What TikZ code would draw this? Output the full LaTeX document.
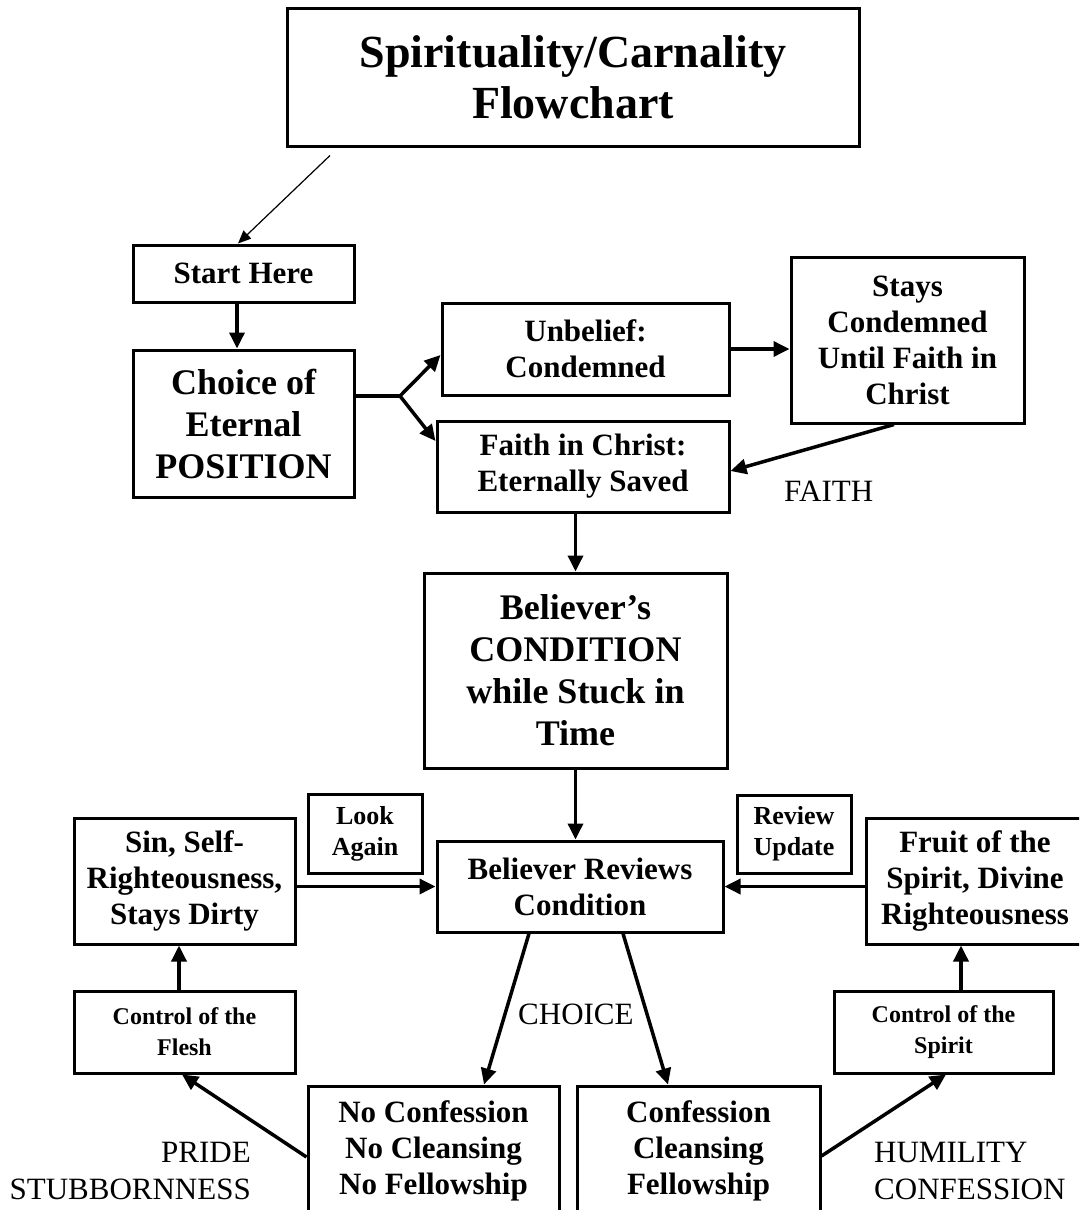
\documentclass[tikz,border=0pt]{standalone}
\usepackage{fontspec}
\setmainfont{Liberation Serif}
\usetikzlibrary{arrows.meta}
\begin{document}
\begin{tikzpicture}[x=1pt,y=-1pt,
  box/.style={draw,line width=3pt,align=center,inner sep=0pt,font=\bfseries\fontsize{31}{36}\selectfont},
  bigtext/.style={font=\bfseries\fontsize{36}{42}\selectfont},
  smalltext/.style={font=\bfseries\fontsize{26}{31}\selectfont},
  arr/.style={line width=3.5pt,-{Triangle[length=16pt,width=15pt]}},
  lbl/.style={inner sep=0pt,font=\fontsize{31}{37}\selectfont}]
\useasboundingbox (0,0) rectangle (1079,1210);
\clip (0,0) rectangle (1079,1210);
\fill[white] (0,0) rectangle (1079,1210);
% nodes
\node[box,minimum width=572pt,minimum height=138pt,font=\bfseries\fontsize{46}{51}\selectfont] (title) at (573,77) {Spirituality/Carnality\\Flowchart};
\node[box,minimum width=221pt,minimum height=57pt] (start) at (243.5,273.5) {Start Here};
\node[box,bigtext,minimum width=221pt,minimum height=147pt] (choice) at (243.5,423.5) {Choice of\\Eternal\\POSITION};
\node[box,minimum width=287pt,minimum height=92pt] (unbelief) at (585.5,349) {Unbelief:\\Condemned};
\node[box,minimum width=233pt,minimum height=166pt] (stays) at (907.5,340) {Stays\\Condemned\\Until Faith in\\Christ};
\node[box,minimum width=292pt,minimum height=91pt] (faith) at (583,466.5) {Faith in Christ:\\Eternally Saved};
\node[box,bigtext,minimum width=303pt,minimum height=195pt] (believer) at (575.5,670.5) {Believer’s\\CONDITION\\while Stuck in\\Time};
\node[box,minimum width=286pt,minimum height=91pt] (reviews) at (580,886.5) {Believer Reviews\\Condition};
\node[box,smalltext,minimum width=114pt,minimum height=79pt] (look) at (365,833.5) {Look\\Again};
\node[box,minimum width=221pt,minimum height=126pt] (sin) at (184.5,881) {Sin, Self-\\Righteousness,\\Stays Dirty};
\node[box,smalltext,minimum width=114pt,minimum height=78pt] (update) at (794,834) {Review\\Update};
\node[box,minimum width=218pt,minimum height=126pt] (fruit) at (975,881) {Fruit of the\\Spirit, Divine\\Righteousness};
\node[box,font=\bfseries\fontsize{24}{31}\selectfont,minimum width=221pt,minimum height=82pt] (flesh) at (184.5,1032) {Control of the\\Flesh};
\node[box,font=\bfseries\fontsize{24}{31}\selectfont,minimum width=219pt,minimum height=82pt] (spirit) at (943.5,1032) {Control of the\\Spirit};
\node[box,minimum width=251pt,minimum height=130pt] (noconf) at (433.5,1151) {No Confession\\No Cleansing\\No Fellowship};
\node[box,minimum width=243pt,minimum height=130pt] (conf) at (698.5,1151) {Confession\\Cleansing\\Fellowship};
% labels
\node[lbl,anchor=west] (faithlbl) at (784,491) {FAITH};
\node[lbl,anchor=west] (choicelbl) at (518,1014) {CHOICE};
\node[lbl,anchor=east,align=right] (pride) at (251,1171) {PRIDE\\STUBBORNNESS};
\node[lbl,anchor=west,align=left] (humility) at (874,1171) {HUMILITY\\CONFESSION};
% connectors
\draw[line width=1.2pt,-{Triangle[length=13pt,width=11pt]}] ([xshift=-243pt,yshift=-8pt]title.south) -- ([xshift=-5.5pt]start.north);
\draw[arr] ([xshift=-6.5pt]start.south) -- ([xshift=-6.5pt]choice.north);
\coordinate (br) at (400,396);
\draw[line width=3.5pt] (choice.east |- br) -- (br);
\draw[arr] (br) -- ([yshift=-6pt]unbelief.west);
\draw[arr] (br) -- ([yshift=25.5pt]faith.west);
\draw[arr] (unbelief.east) -- (unbelief.east -| stays.west);
\draw[arr] ([xshift=-13.5pt]stays.south) -- ([yshift=-4.5pt]faith.east);
\draw[arr] (believer.north |- faith.south) -- (believer.north);
\draw[arr] (believer.south) -- (reviews.north -| believer.south);
\draw[arr] (sin.east |- reviews.west) -- (reviews.west);
\draw[arr] (fruit.west |- reviews.east) -- (reviews.east);
\draw[arr] ([xshift=-5.5pt]flesh.north) -- ([xshift=-5.5pt]sin.south);
\draw[arr] ([xshift=17.5pt]spirit.north) -- ([xshift=17.5pt]spirit.north |- fruit.south);
\draw[arr] ([xshift=-51pt]reviews.south) -- ([xshift=50.5pt]noconf.north);
\draw[arr] ([xshift=43pt]reviews.south) -- ([xshift=-30.5pt]conf.north);
\draw[arr] ([yshift=-6pt]noconf.west) -- ([xshift=-2.5pt]flesh.south);
\draw[arr] ([yshift=-5pt]conf.east) -- ([xshift=2.5pt]spirit.south);
\end{tikzpicture}
\end{document}
